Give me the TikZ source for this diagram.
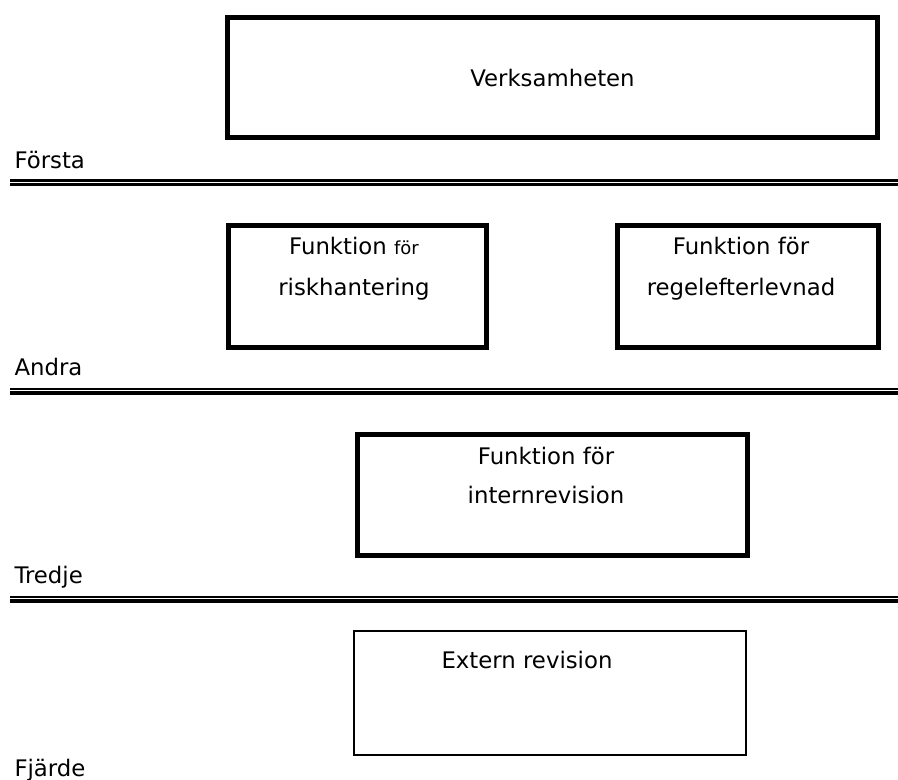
\documentclass[tikz,border=0pt]{standalone}
\usepackage{fontspec}
\setmainfont{DejaVu Sans}
\usepackage{tikz}
\usetikzlibrary{positioning}

\begin{document}
\begin{tikzpicture}[x=1pt, y=-1pt, line width=5pt,
  font=\fontsize{22.8}{41}\selectfont,
  box/.style={draw, rectangle, inner sep=0pt},
  txt/.style={align=center, inner sep=0pt, anchor=base},
  level/.style={anchor=base west, inner sep=0pt},
  septhick/.style={line width=3.2pt},
  septhin/.style={line width=2.4pt}]
\useasboundingbox (0,0) rectangle (898,780);

% first line
\node[box, minimum width=650pt, minimum height=120pt] (verk) at (552.5,77.5) {Verksamheten};
\node[level] (forsta) at (12,168.3) {Första};
\draw[septhick] (10,180.5) -- (898,180.5);
\draw[septhin] (10,184.6) -- (898,184.6);

% second line
\node[box, line width=4.7pt, minimum width=258pt, minimum height=122pt] (risk) at (357.5,286.5) {};
\node[txt] (risktxt) at (354,295) {Funktion {\fontsize{18}{41}\selectfont för}\\riskhantering};
\node[box, line width=4.7pt, minimum width=261pt, minimum height=122pt] (regel) at (748,286.5) {};
\node[txt] (regeltxt) at (741,295) {Funktion för\\regelefterlevnad};
\node[level] (andra) at (12,375.7) {Andra};
\draw[septhin] (10,388.8) -- (898,388.8);
\draw[septhick] (10,393) -- (898,393);

% third line
\node[box, minimum width=390pt, minimum height=121pt] (intern) at (552.5,495) {};
\node[txt, font=\fontsize{22.8}{39}\selectfont] (interntxt) at (546,503) {Funktion för\\internrevision};
\node[level] (tredje) at (12,583.3) {Tredje};
\draw[septhin] (10,597) -- (898,597);
\draw[septhick] (10,601) -- (898,601);

% fourth line
\node[box, line width=2pt, minimum width=392pt, minimum height=124pt] (extern) at (549.5,693) {};
\node[txt] (externtxt) at (527,668) {Extern revision};
\node[level] (fjarde) at (12,776.7) {Fjärde};
\end{tikzpicture}
\end{document}
